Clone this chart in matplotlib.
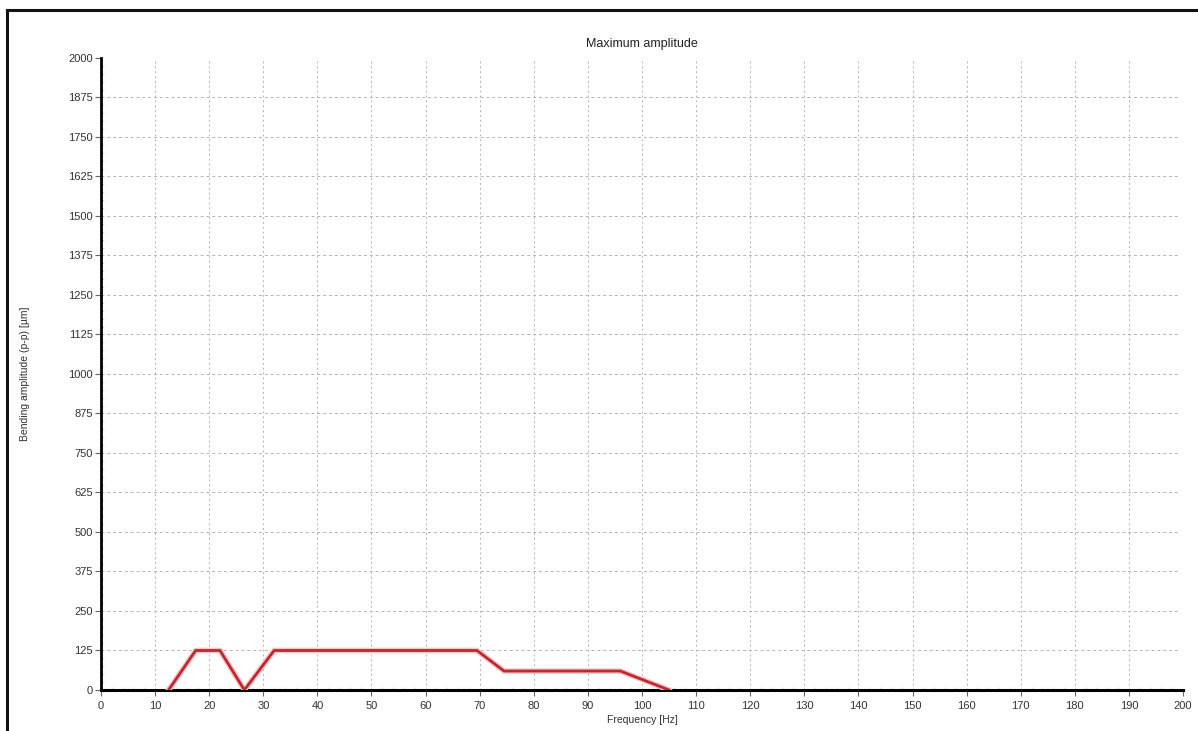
import matplotlib
matplotlib.use("Agg")
import matplotlib.pyplot as plt
from matplotlib.lines import Line2D
from matplotlib.ticker import MultipleLocator

# Maximum bending amplitude vs frequency
freq_hz = [12.5, 17.5, 22.0, 26.5, 32.0, 69.5, 74.5, 96.0, 105.0]
amp_um = [0, 125, 125, 0, 125, 125, 60, 60, 0]

x_ticks = list(range(0, 201, 10))
y_ticks = list(range(0, 2001, 125))

plt.rcParams['font.family'] = ['Liberation Sans', 'DejaVu Sans']

fig = plt.figure(figsize=(11.98, 7.31), dpi=100)
ax = fig.add_axes([0.0843, 0.0561, 0.9032, 0.8646])

ax.plot(freq_hz, amp_um, color="#f4c4c4", lw=4.0, solid_joinstyle="miter", zorder=3)
ax.plot(freq_hz, amp_um, color="#c1272d", lw=2.0, solid_joinstyle="miter", zorder=4)

ax.set_xlim(0, 200)
ax.set_ylim(0, 2000)
ax.set_xticks(x_ticks)
ax.set_yticks(y_ticks)
ax.xaxis.set_minor_locator(MultipleLocator(2))
ax.yaxis.set_minor_locator(MultipleLocator(25))

# dashed grid, skipping the lines on the outer limits
for x in x_ticks[1:-1]:
    ax.axvline(x, color="#b4b4b4", lw=0.7, ls=(0, (2, 3)), zorder=1)
for y in y_ticks[1:-1]:
    ax.axhline(y, xmax=0.996, color="#b4b4b4", lw=0.7, ls=(0, (3, 3)), zorder=1)

for s in ("top", "right"):
    ax.spines[s].set_visible(False)
ax.spines["left"].set_linewidth(2)
ax.spines["bottom"].set_linewidth(2.2)

ax.tick_params(axis="both", which="major", direction="out", length=4, width=0.8,
               labelsize=8, labelcolor="#333333", color="#666666")
ax.tick_params(axis="both", which="minor", direction="in", length=2, width=0.4, color="#b0b0b0")
ax.tick_params(axis="x", pad=4)
ax.tick_params(axis="y", pad=2)

ax.set_title("Maximum amplitude", fontsize=9, color="#222222", pad=8)
ax.set_xlabel("Frequency [Hz]", fontsize=7.5, color="#333333", labelpad=3)
ax.set_ylabel("Bending amplitude (p-p) [µm]", fontsize=7.5, color="#333333", labelpad=27)

# outer frame (top and left edges)
fig.add_artist(Line2D([7 / 1198, 1], [1 - 10 / 731, 1 - 10 / 731], color="#111111", lw=2.2))
fig.add_artist(Line2D([7 / 1198, 7 / 1198], [0, 1 - 10 / 731], color="#111111", lw=2.2))

fig.savefig("out.png", dpi=100)
